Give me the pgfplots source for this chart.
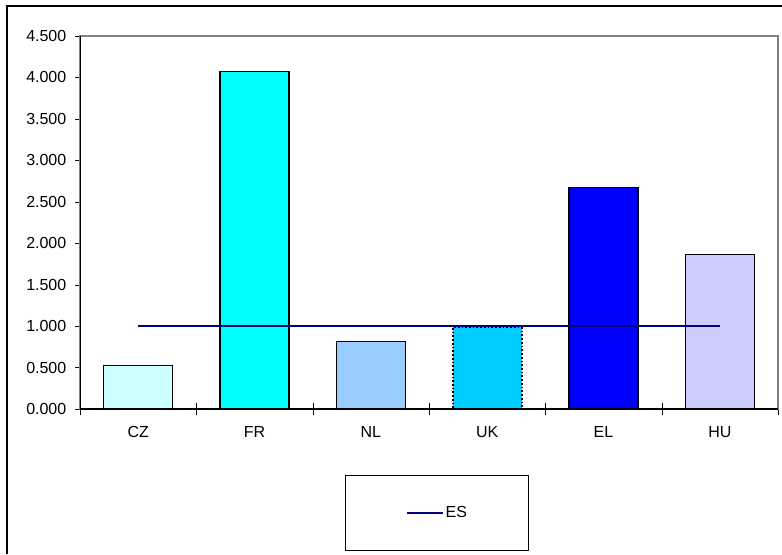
\documentclass[border=0pt]{standalone}
\usepackage{fontspec}
\setmainfont{Liberation Sans}
\usepackage{pgfplots}
\pgfplotsset{compat=1.18}

\definecolor{czcol}{RGB}{204,255,255}
\definecolor{frcol}{RGB}{0,255,255}
\definecolor{nlcol}{RGB}{153,204,255}
\definecolor{ukcol}{RGB}{0,204,255}
\definecolor{elcol}{RGB}{0,0,255}
\definecolor{hucol}{RGB}{204,204,255}
\definecolor{escol}{RGB}{0,0,128}

\begin{document}
\begin{tikzpicture}
\path[use as bounding box] (0,0) rectangle (586.5pt,415.5pt);
\draw[line width=1pt] (5.25pt,0pt) -- (5.25pt,411pt) -- (586.5pt,411pt);
\begin{axis}[
    at={(60pt,108.75pt)}, anchor=south west,
    scale only axis,
    width=523.5pt, height=279.75pt,
    font=\fontsize{12}{14}\selectfont,
    xmin=-0.5, xmax=5.5,
    ymin=0, ymax=4.5,
    xtick={0,1,2,3,4,5},
    xticklabels={CZ,FR,NL,UK,EL,HU},
    minor xtick={-0.5,0.5,1.5,2.5,3.5,4.5,5.5},
    ytick={0,0.5,1,1.5,2,2.5,3,3.5,4,4.5},
    yticklabels={0.000,0.500,1.000,1.500,2.000,2.500,3.000,3.500,4.000,4.500},
    tick align=outside,
    major tick length=3.75pt,
    minor tick length=9pt,
    major x tick style={draw=none},
    minor x tick style={black, yshift=4.5pt},
    ytick pos=left,
    xtick pos=bottom,
    y tick style={black},
    x tick label style={yshift=-5.5pt},
    y tick label style={xshift=-3pt},
    axis line style={gray, line width=0.8pt},
    bar width=51.75pt,
    legend style={at={(0.5115,-0.2788)}, anchor=center, draw=black, line width=0.8pt,
        inner xsep=45pt, inner ysep=22pt,
        nodes={inner sep=1pt}},
    legend image code/.code={\draw[#1] (0pt,0pt) -- (27pt,0pt);},
]
\addplot[ybar, bar shift=0pt, fill=czcol, draw=black, line width=0.8pt, forget plot] coordinates {(0,0.52)};
\addplot[ybar, bar shift=0pt, fill=frcol, draw=black, line width=0.8pt, forget plot] coordinates {(1,4.07)};
\addplot[ybar, bar shift=0pt, fill=nlcol, draw=black, line width=0.8pt, forget plot] coordinates {(2,0.814)};
\addplot[ybar, bar shift=0pt, fill=ukcol, draw=black, line width=1.3pt, dash pattern=on 1.3pt off 1.5pt, forget plot] coordinates {(3,0.985)};
\addplot[ybar, bar shift=0pt, fill=elcol, draw=black, line width=0.8pt, forget plot] coordinates {(4,2.67)};
\addplot[ybar, bar shift=0pt, fill=hucol, draw=black, line width=0.8pt, forget plot] coordinates {(5,1.86)};
\addplot[escol, line width=2pt, mark=none] coordinates {(0,1)(1,1)(2,1)(3,1)(4,1)(5,1)};
\addlegendentry{ES}
\draw[black, line width=0.8pt] (rel axis cs:0,1) -- (rel axis cs:0,0) -- (rel axis cs:1,0);
\end{axis}
\end{tikzpicture}
\end{document}
